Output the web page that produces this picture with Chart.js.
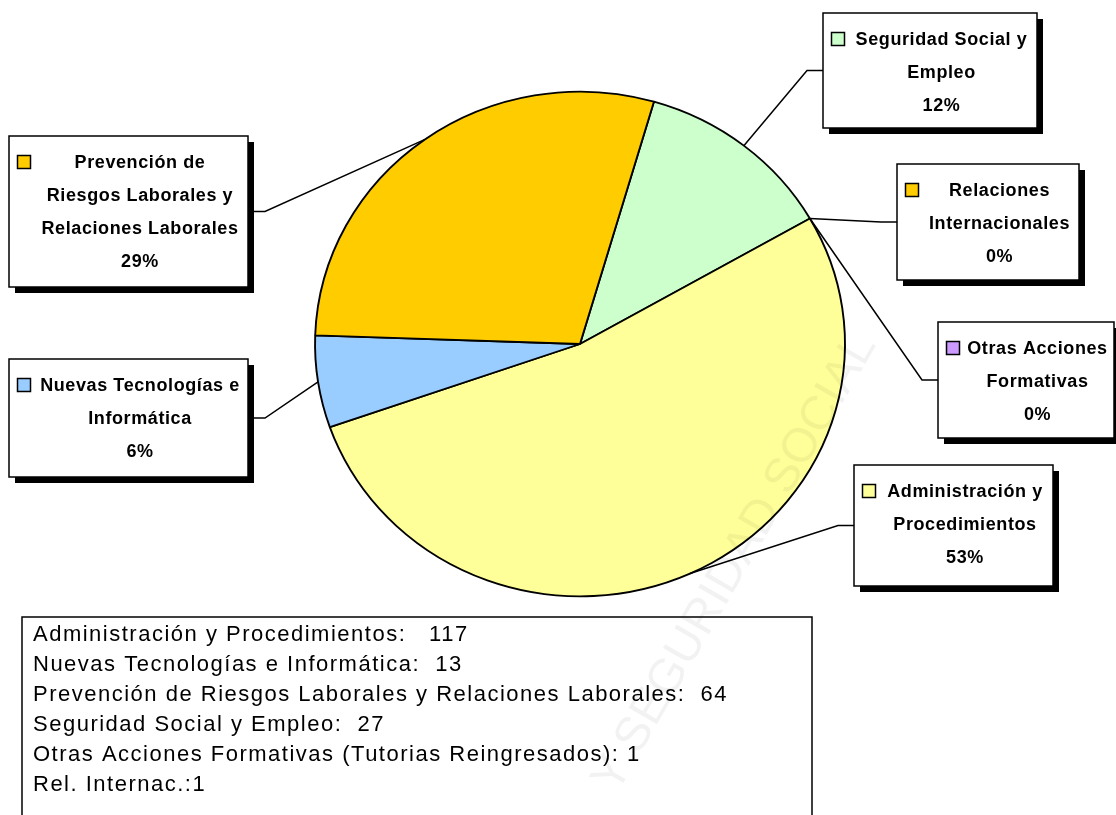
<!DOCTYPE html>
<html lang="es">
<head>
<meta charset="utf-8">
<title>Acciones formativas</title>
<script src="https://cdn.jsdelivr.net/npm/chart.js@4.4.1/dist/chart.umd.min.js"></script>
<style>
  html, body { margin: 0; padding: 0; background: #fff; }
  #contenedor { position: relative; width: 1116px; height: 815px; }
</style>
</head>
<body>
<div id="contenedor"><canvas id="grafico"></canvas></div>
<script>
// -------------------------
// Datos
// -------------------------
const categorias = [
  "Seguridad Social y Empleo",
  "Relaciones Internacionales",
  "Otras Acciones Formativas",
  "Administración y Procedimientos",
  "Nuevas Tecnologías e Informática",
  "Prevención de Riesgos Laborales y Relaciones Laborales"
];
// en la tarta las dos categorias pequeñas salen a 0 (0%)
const valores = [27, 0, 0, 117, 13, 64];
const colores = ["#CCFFCC", "#FFCC00", "#CC99FF", "#FFFF99", "#99CCFF", "#FFCC00"];

// texto de cada etiqueta (el % se calcula)
const lineasEtiqueta = [
  ["Seguridad Social y", "Empleo"],
  ["Relaciones", "Internacionales"],
  ["Otras Acciones", "Formativas"],
  ["Administración y", "Procedimientos"],
  ["Nuevas Tecnologías e", "Informática"],
  ["Prevención de", "Riesgos Laborales y", "Relaciones Laborales"]
];

// cuadro de notas de abajo
const notas = [
  "Administración y Procedimientos:   117",
  "Nuevas Tecnologías e Informática:  13",
  "Prevención de Riesgos Laborales y Relaciones Laborales:  64",
  "Seguridad Social y Empleo:  27",
  "Otras Acciones Formativas (Tutorias Reingresados): 1",
  "Rel. Internac.:1"
];

// -------------------------
// Layout de las cajas (mismo orden que categorias)
// -------------------------
const cajas = [
  { x: 823, y: 13,  w: 214, h: 115, lado: "izq" },
  { x: 897, y: 164, w: 182, h: 116, lado: "izq" },
  { x: 938, y: 322, w: 176, h: 116, lado: "izq" },
  { x: 854, y: 465, w: 199, h: 121, lado: "izq" },
  { x: 9,   y: 359, w: 239, h: 118, lado: "der" },
  { x: 9,   y: 136, w: 239, h: 151, lado: "der" }
];
const ESCALA_X = 1.05; // la tarta original es algo ovalada
const total = valores.reduce((a, b) => a + b, 0);

// -------------------------
// Plugins
// -------------------------
const pluginElipse = {
  id: "elipse",
  beforeDatasetsDraw(chart) {
    const arc = chart.getDatasetMeta(0).data[0];
    const ctx = chart.ctx;
    ctx.save();
    ctx.translate(arc.x, arc.y);
    ctx.scale(ESCALA_X, 1);
    ctx.translate(-arc.x, -arc.y);
  },
  afterDatasetsDraw(chart) {
    chart.ctx.restore();
  }
};

const pluginEtiquetas = {
  id: "etiquetas",
  afterDraw(chart) {
    const ctx = chart.ctx;
    const meta = chart.getDatasetMeta(0);

    // lineas guia
    ctx.save();
    ctx.strokeStyle = "#000";
    ctx.lineWidth = 1.5;
    meta.data.forEach((arc, i) => {
      const c = cajas[i];
      const mid = (arc.startAngle + arc.endAngle) / 2;
      const px = arc.x + arc.outerRadius * ESCALA_X * Math.cos(mid);
      const py = arc.y + arc.outerRadius * Math.sin(mid);
      const ay = c.y + c.h / 2;
      const ax = c.lado === "izq" ? c.x : c.x + c.w;
      const codo = c.lado === "izq" ? ax - 16 : ax + 17;
      ctx.beginPath();
      ctx.moveTo(px, py);
      ctx.lineTo(codo, ay);
      ctx.lineTo(ax, ay);
      ctx.stroke();
    });
    ctx.restore();

    // cajas
    ctx.save();
    ctx.font = "bold 18px 'Liberation Sans', Arial, sans-serif";
    ctx.letterSpacing = "0.6px";
    ctx.textAlign = "center";
    ctx.textBaseline = "middle";
    meta.data.forEach((arc, i) => {
      const c = cajas[i];
      ctx.fillStyle = "#000";
      ctx.fillRect(c.x + 6, c.y + 6, c.w, c.h);
      ctx.fillStyle = "#fff";
      ctx.fillRect(c.x, c.y, c.w, c.h);
      ctx.strokeStyle = "#000";
      ctx.lineWidth = 1.5;
      ctx.strokeRect(c.x, c.y, c.w, c.h);

      const y0 = c.y + 27;
      // marcador
      ctx.fillStyle = colores[i];
      ctx.fillRect(c.x + 8.5, y0 - 7.5, 13, 13);
      ctx.strokeRect(c.x + 8.5, y0 - 7.5, 13, 13);

      const pct = Math.round(valores[i] / total * 100) + "%";
      const lineas = lineasEtiqueta[i].concat([pct]);
      const cx = c.x + (c.w + 23) / 2;
      ctx.fillStyle = "#000";
      lineas.forEach((t, k) => ctx.fillText(t, cx, y0 + k * 33));
    });
    ctx.restore();

    // cuadro de notas
    ctx.save();
    ctx.strokeStyle = "#000";
    ctx.lineWidth = 1.5;
    ctx.strokeRect(22, 617, 790, 240);
    ctx.fillStyle = "#000";
    ctx.font = "22px 'Liberation Sans', Arial, sans-serif";
    ctx.letterSpacing = "1.5px";
    ctx.textAlign = "left";
    ctx.textBaseline = "middle";
    notas.forEach((t, k) => ctx.fillText(t, 33, 635 + k * 30));
    ctx.restore();

    // marca de agua
    ctx.save();
    ctx.translate(735, 563);
    ctx.rotate(-60 * Math.PI / 180);
    ctx.font = "48px 'Liberation Sans', Arial, sans-serif";
    ctx.fillStyle = "rgba(0,0,0,0.05)";
    ctx.textAlign = "center";
    ctx.textBaseline = "middle";
    ctx.fillText("Y SEGURIDAD SOCIAL", 0, 0);
    ctx.restore();
  }
};

// -------------------------
// Grafico
// -------------------------
const ctx = document.getElementById("grafico").getContext("2d");
new Chart(ctx, {
  type: "pie",
  data: {
    labels: categorias,
    datasets: [
      {
        data: valores,
        backgroundColor: colores,
        borderColor: "#000",
        borderWidth: 1.8
      }
    ]
  },
  options: {
    responsive: true,
    maintainAspectRatio: false,
    animation: false,
    rotation: 16.2,
    layout: {
      padding: { left: 326.75, top: 90.75, right: 282.75, bottom: 217.75 }
    },
    plugins: {
      legend: { display: false },
      tooltip: { enabled: false }
    }
  },
  plugins: [pluginElipse, pluginEtiquetas]
});
</script>
</body>
</html>
